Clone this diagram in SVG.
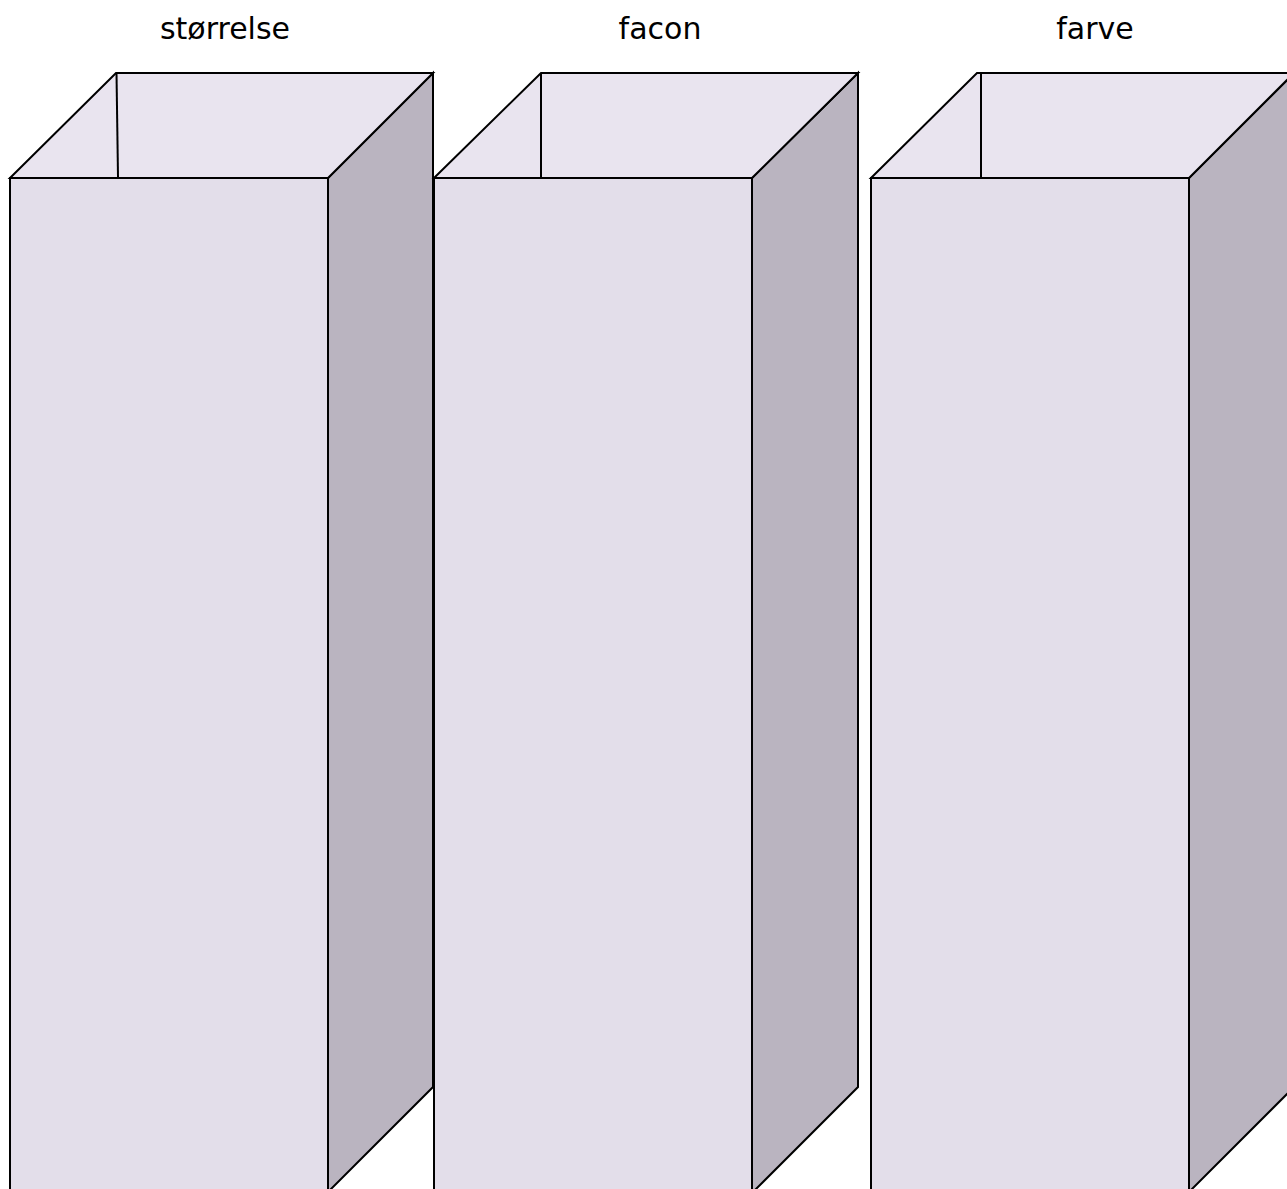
<svg xmlns="http://www.w3.org/2000/svg" width="1287" height="1189" viewBox="0 0 1287 1189">
  <style>
    .side { fill: #bab4c0; stroke: #000; stroke-width: 2; stroke-linejoin: miter; }
    .top { fill: #e9e4ef; stroke: #000; stroke-width: 2; }
    .front { fill: #e3deea; stroke: #000; stroke-width: 2; }
    .edge { stroke: #000; stroke-width: 2; fill: none; }
    .label { font-family: "DejaVu Sans", "Liberation Sans", sans-serif; font-size: 30px; fill: #000; text-anchor: middle; }
  </style>
  <rect x="0" y="0" width="1287" height="1189" fill="#ffffff"/>
  <g id="box-storrelse">
    <polygon class="side" points="328,178 433,73 433,1087 328,1192"/>
    <polygon class="top" points="10,178 116,73 433,73 328,178"/>
    <line class="edge" x1="116.5" y1="73" x2="118" y2="177"/>
    <rect class="front" x="10" y="178" width="318" height="1020"/>
    <text class="label" x="225" y="39">størrelse</text>
  </g>
  <g id="box-facon">
    <polygon class="side" points="752,178 858,73 858,1087 752,1193"/>
    <polygon class="top" points="434,178 541,73 858,73 752,178"/>
    <line class="edge" x1="541" y1="73" x2="541" y2="177"/>
    <rect class="front" x="434" y="178" width="318" height="1020"/>
    <text class="label" x="660" y="39">facon</text>
  </g>
  <g id="box-farve">
    <polygon class="side" points="1189,178 1294,73 1294,1087 1189,1192"/>
    <polygon class="top" points="871,178 977,73 1294,73 1189,178"/>
    <line class="edge" x1="981" y1="73" x2="981" y2="177"/>
    <rect class="front" x="871" y="178" width="318" height="1020"/>
    <text class="label" x="1095" y="39">farve</text>
  </g>
  <g id="connectors"/>
</svg>
